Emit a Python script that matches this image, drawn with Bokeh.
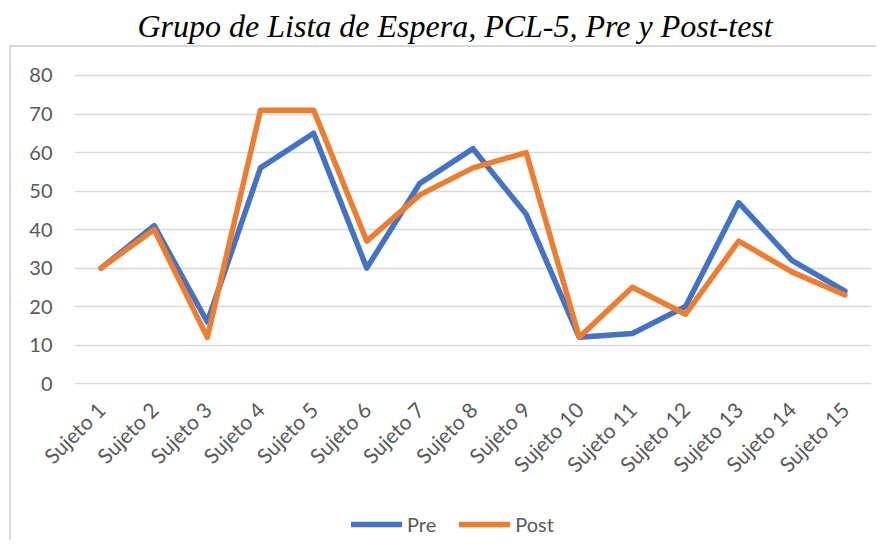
from bokeh.plotting import figure
from bokeh.layouts import column
from bokeh.models import Legend, LegendItem, FactorRange, ColumnDataSource, Range1d
from bokeh.embed import file_html
from bokeh.resources import INLINE
import math

sujetos = ["Sujeto 1", "Sujeto 2", "Sujeto 3", "Sujeto 4", "Sujeto 5", "Sujeto 6", "Sujeto 7",
           "Sujeto 8", "Sujeto 9", "Sujeto 10", "Sujeto 11", "Sujeto 12", "Sujeto 13",
           "Sujeto 14", "Sujeto 15"]
pre = [30, 41, 16, 56, 65, 30, 52, 61, 44, 12, 13, 20, 47, 32, 24]
post = [30, 40, 12, 71, 71, 37, 49, 56, 60, 12, 25, 18, 37, 29, 23]
y_ticks = [0, 10, 20, 30, 40, 50, 60, 70, 80]

src = ColumnDataSource(data=dict(x=sujetos, pre=pre, post=post))

grey = "#d9d9d9"
blue = "#4472C4"
orange = "#ED7D31"
xr = FactorRange(*sujetos, range_padding=0)

# frame runs from the title down to the zero line; the empty band above 80 keeps the title close
p = figure(width=876, height=500, x_range=xr, y_range=Range1d(-0.5, 87.53),
           output_backend="svg", toolbar_location=None,
           min_border_left=74, min_border_right=5,
           min_border_top=46, min_border_bottom=115,
           styles={"background": (
               f"linear-gradient({grey}, {grey}) 9px 45px / 2px 1000px no-repeat, "
               f"linear-gradient({grey}, {grey}) 9px 45px / 2000px 2px no-repeat, white")})
p.border_fill_color = None
p.background_fill_color = None

p.title.text = "Grupo de Lista de Espera, PCL-5, Pre y Post-test"
p.title.text_font = "Liberation Serif"
p.title.text_font_style = "italic"
p.title.text_font_size = "32px"
p.title.text_color = "black"
p.title.align = "left"
p.title.offset = 63
p.title.standoff = 6

p.line(x="x", y="pre", source=src, line_width=5.5, color=blue,
       line_join="round", line_cap="round")
p.line(x="x", y="post", source=src, line_width=5.5, color=orange,
       line_join="round", line_cap="round")

p.outline_line_color = None
p.xgrid.grid_line_color = None
p.ygrid.grid_line_color = grey
p.ygrid.grid_line_width = 1.5
p.yaxis.ticker = y_ticks

for ax in (p.xaxis, p.yaxis):
    ax.axis_line_color = None
    ax.major_tick_line_color = None
    ax.minor_tick_line_color = None
    ax.major_tick_out = 0
    ax.major_tick_in = 0
    ax.major_label_text_font = "Lato"
    ax.major_label_text_color = "#595959"

p.yaxis.major_label_text_font_size = "20px"
p.xaxis.major_label_text_font_size = "21px"
p.yaxis.major_label_standoff = 22
p.xaxis.major_label_orientation = math.pi / 4
p.xaxis.major_label_standoff = 20

# Legend strip below the chart (legend proxies share the data; their lines fall outside the view)
pl = figure(width=876, height=40, x_range=xr, y_range=Range1d(200, 300),
            output_backend="svg", toolbar_location=None,
            x_axis_location=None, y_axis_location=None,
            min_border=0, min_border_left=0, min_border_right=0,
            min_border_top=0, min_border_bottom=0,
            styles={"background": (
                f"linear-gradient({grey}, {grey}) 9px 0px / 2px 1000px no-repeat, white")})
pl.border_fill_color = None
pl.background_fill_color = None
pl.outline_line_color = None
pl.grid.grid_line_color = None
l1 = pl.line(x="x", y="pre", source=src, line_width=5.5, color=blue,
             line_join="round", line_cap="round")
l2 = pl.line(x="x", y="post", source=src, line_width=5.5, color=orange,
             line_join="round", line_cap="round")

legend = Legend(items=[LegendItem(label="Pre", renderers=[l1]),
                       LegendItem(label="Post", renderers=[l2])],
                orientation="horizontal", location=(277, 4),
                border_line_color=None, background_fill_alpha=0,
                label_text_font="Lato", label_text_font_size="20px",
                label_text_color="#595959",
                glyph_width=51, glyph_height=24, label_height=24, spacing=23,
                label_standoff=5, padding=0, margin=0)
pl.add_layout(legend)

layout = column(p, pl, spacing=0)
open("out.html", "w").write(file_html(layout, INLINE))
